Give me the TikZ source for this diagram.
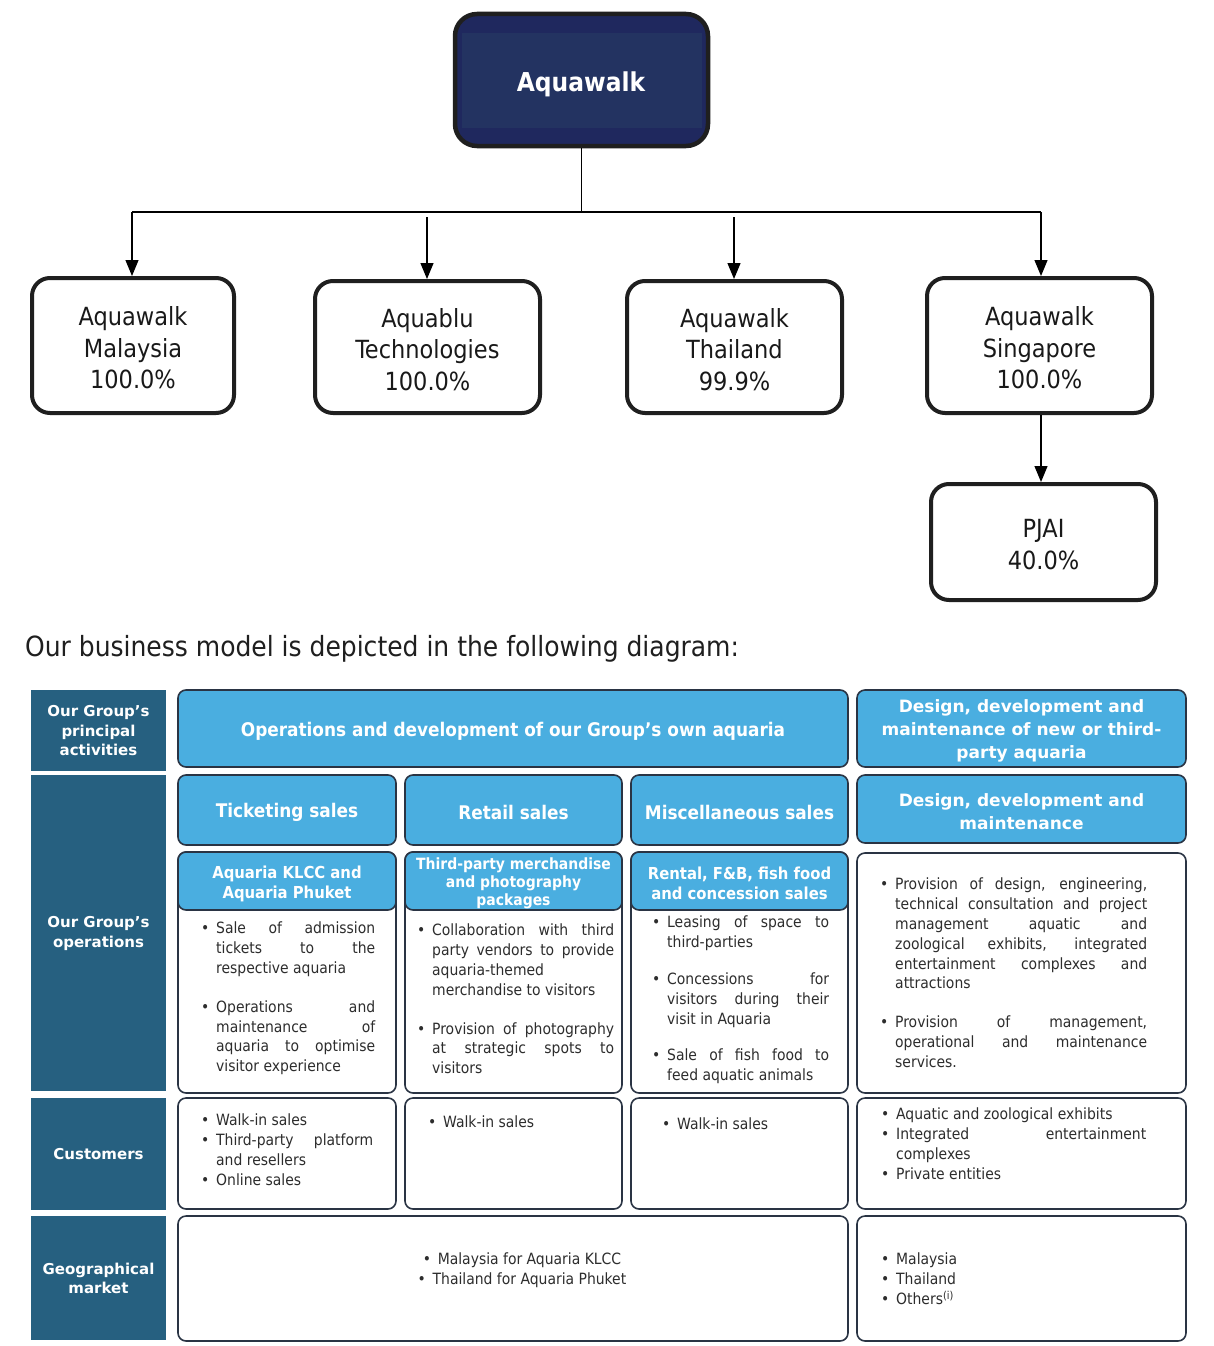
\documentclass[tikz,border=0pt]{standalone}
\usepackage{fontspec}
\setmainfont{DejaVu Sans Condensed}
\newfontfamily\widefont{DejaVu Sans}
\usetikzlibrary{arrows.meta}
\definecolor{navy}{RGB}{31,40,94}
\definecolor{navyin}{RGB}{35,51,97}
\definecolor{steel}{RGB}{38,96,128}
\definecolor{sky}{RGB}{74,174,224}
\definecolor{edge}{RGB}{42,52,68}
\definecolor{txt}{RGB}{45,45,45}
\newlength\cw
\newcommand\J[1]{\makebox[\cw][s]{#1}}
\newcommand\B{\makebox[15pt][l]{•}}
\newcommand\I{\hspace*{15pt}}
\newcommand\bxshift{2.5pt}
\newcommand\bx[7]{\node[#6, minimum width={(#4-#2)*1pt}, minimum height={(#5-#3)*1pt}] (#1) at ({(#2+#4)/2},{(#3+#5)/2}) {};
  \node[#6, draw=none, fill=none] (#1-t) at ([yshift=-\bxshift]#1.center) {#7};}
\begin{document}
\begin{tikzpicture}[x=1pt,y=-1pt,
  orgbox/.style={draw=black!88, line width=4pt, rounded corners=18pt, fill=white, inner sep=0pt, align=center, font=\fontsize{25}{31.5}\selectfont, text=black!90},
  arr/.style={line width=1.2pt, -{Triangle[length=16pt,width=13pt]}},
  ln/.style={line width=1.2pt},
  lab/.style={fill=steel, inner sep=0pt, text=white, align=center, font=\widefont\bfseries\fontsize{15}{19.5}\selectfont},
  hdr/.style={fill=sky, draw=edge, line width=1.6pt, rounded corners=8pt, inner sep=0pt, text=white, align=center, font=\bfseries\fontsize{18.8}{23}\selectfont},
  cell/.style={fill=white, draw=edge, line width=1.6pt, rounded corners=8pt, inner sep=0pt},
  ctext/.style={inner sep=0pt, align=left, text=txt, font=\fontsize{15.5}{19.8}\selectfont},
]
\fill[white] (0,0) rectangle (1213,1346);
\useasboundingbox (0,0) rectangle (1213,1346);

% ---------- org chart ----------
\bx{aw}{455}{14}{708}{146}{draw=black!88, line width=4.5pt, rounded corners=22pt, fill=navy}{}
\fill[navyin] (462,33) rectangle (702,128);
\node[text=white, font=\bfseries\fontsize{26}{30}\selectfont, inner sep=0pt] (awt) at (581,84) {Aquawalk};

\bx{mal}{32}{278}{234}{413}{orgbox}{Aquawalk\\Malaysia\\100.0\%}
\bx{ab}{315}{281}{540}{413}{orgbox}{Aquablu\\Technologies\\100.0\%}
\bx{th}{627}{281}{842}{413}{orgbox}{Aquawalk\\Thailand\\99.9\%}
\bx{sg}{927}{278}{1152}{413}{orgbox}{Aquawalk\\Singapore\\100.0\%}
\bx{pj}{931}{484}{1156}{600}{orgbox}{PJAI\\40.0\%}

\coordinate (hubL) at (132,212);
\coordinate (hubR) at (1041,212);
\coordinate (abTop) at (427,217);
\coordinate (thTop) at (734,217);
\draw[ln] (aw.south) -- (aw.south |- hubL);
\draw[ln] (hubL) -- (hubR);
\draw[arr] (hubL) -- (hubL |- mal.north);
\draw[arr] (abTop) -- (abTop |- ab.north);
\draw[arr] (thTop) -- (thTop |- th.north);
\draw[arr] (hubR) -- (hubR |- sg.north);
\draw[arr] (sg.south -| hubR) -- (hubR |- pj.north);

\node[anchor=base west, font=\fontsize{27.8}{32}\selectfont, text=black!88, inner sep=0pt] (cap) at (25,656) {Our business model is depicted in the following diagram:};

% ---------- table ----------
\renewcommand\bxshift{0.5pt}
\bx{l1}{31}{690}{166}{771}{lab}{Our Group’s\\principal\\activities}
\bx{l2}{31}{775}{166}{1091}{lab}{Our Group’s\\operations}
\bx{l3}{31}{1098}{166}{1210}{lab}{Customers}
\bx{l4}{31}{1216}{166}{1340}{lab}{Geographical\\market}
\renewcommand\bxshift{2.5pt}

\bx{a1}{178}{690}{848}{767}{hdr}{Operations and development of our Group’s own aquaria}
\bx{b1}{857}{690}{1186}{767}{hdr, font=\widefont\bfseries\fontsize{17}{23}\selectfont}{Design, development and\\maintenance of new or third-\\party aquaria}

\bx{t2}{178}{775}{396}{845}{hdr}{Ticketing sales}
\bx{r2}{405}{775}{622}{845}{hdr}{Retail sales}
\bx{m2}{631}{775}{848}{845}{hdr}{Miscellaneous sales}
\bx{d2}{857}{775}{1186}{843}{hdr, font=\widefont\bfseries\fontsize{17}{23}\selectfont}{Design, development and\\maintenance}

\bx{t3}{178}{852}{396}{1093}{cell}{}
\bx{t3h}{178}{852}{396}{910}{hdr, font=\bfseries\fontsize{16.5}{20}\selectfont}{Aquaria KLCC and\\Aquaria Phuket}
\bx{r3}{405}{852}{622}{1093}{cell}{}
\bx{r3h}{405}{852}{622}{910}{hdr, font=\bfseries\fontsize{15.5}{18}\selectfont}{Third-party merchandise\\and photography\\packages}
\bx{m3}{631}{852}{848}{1093}{cell}{}
\bx{m3h}{631}{852}{848}{910}{hdr, font=\bfseries\fontsize{16.5}{20}\selectfont}{Rental, F\&B, fish food\\and concession sales}
\bx{d3}{857}{853}{1186}{1093}{cell}{}

\setlength\cw{159pt}
\node[ctext, anchor=north west] (t3x) at (201,922) {\B\J{Sale of admission}\\ \I\J{tickets to the}\\ \I respective aquaria\\[19pt] \B\J{Operations and}\\ \I\J{maintenance of}\\ \I\J{aquaria to optimise}\\ \I visitor experience};
\setlength\cw{182pt}
\node[ctext, anchor=north west] (r3x) at (417,924) {\B\J{Collaboration with third}\\ \I\J{party vendors to provide}\\ \I aquaria-themed\\ \I merchandise to visitors\\[19pt] \B\J{Provision of photography}\\ \I\J{at strategic spots to}\\ \I visitors};
\setlength\cw{162pt}
\node[ctext, anchor=north west] (m3x) at (652,916) {\B\J{Leasing of space to}\\ \I third-parties\\[17pt] \B\J{Concessions for}\\ \I\J{visitors during their}\\ \I visit in Aquaria\\[17pt] \B\J{Sale of fish food to}\\ \I feed aquatic animals};
\setlength\cw{252pt}
\node[ctext, anchor=north west] (d3x) at (880,878) {\B\J{Provision of design, engineering,}\\ \I\J{technical consultation and project}\\ \I\J{management aquatic and}\\ \I\J{zoological exhibits, integrated}\\ \I\J{entertainment complexes and}\\ \I attractions\\[19pt] \B\J{Provision of management,}\\ \I\J{operational and maintenance}\\ \I services.};

\bx{t4}{178}{1098}{396}{1209}{cell}{}
\bx{r4}{405}{1098}{622}{1209}{cell}{}
\bx{m4}{631}{1098}{848}{1209}{cell}{}
\bx{d4}{857}{1098}{1186}{1209}{cell}{}
\setlength\cw{157pt}
\node[ctext, anchor=north west] (t4x) at (201,1114) {\B Walk-in sales\\ \B\J{Third-party platform}\\ \I and resellers\\ \B Online sales};
\node[ctext, anchor=north west] (r4x) at (428,1116) {\B Walk-in sales};
\node[ctext, anchor=north west] (m4x) at (662,1118) {\B Walk-in sales};
\setlength\cw{250pt}
\node[ctext, anchor=north west] (d4x) at (881,1108) {\B Aquatic and zoological exhibits\\ \B\J{Integrated entertainment}\\ \I complexes\\ \B Private entities};

\bx{g1}{178}{1216}{848}{1341}{cell}{}
\bx{g2}{857}{1216}{1186}{1341}{cell}{}
\node[ctext, align=center, anchor=north] (g1x) at (522,1253) {\B Malaysia for Aquaria KLCC\\ \B Thailand for Aquaria Phuket};
\node[ctext, anchor=north west] (g2x) at (881,1253) {\B Malaysia\\ \B Thailand\\ \B Others\textsuperscript{(i)}};
\end{tikzpicture}
\end{document}
